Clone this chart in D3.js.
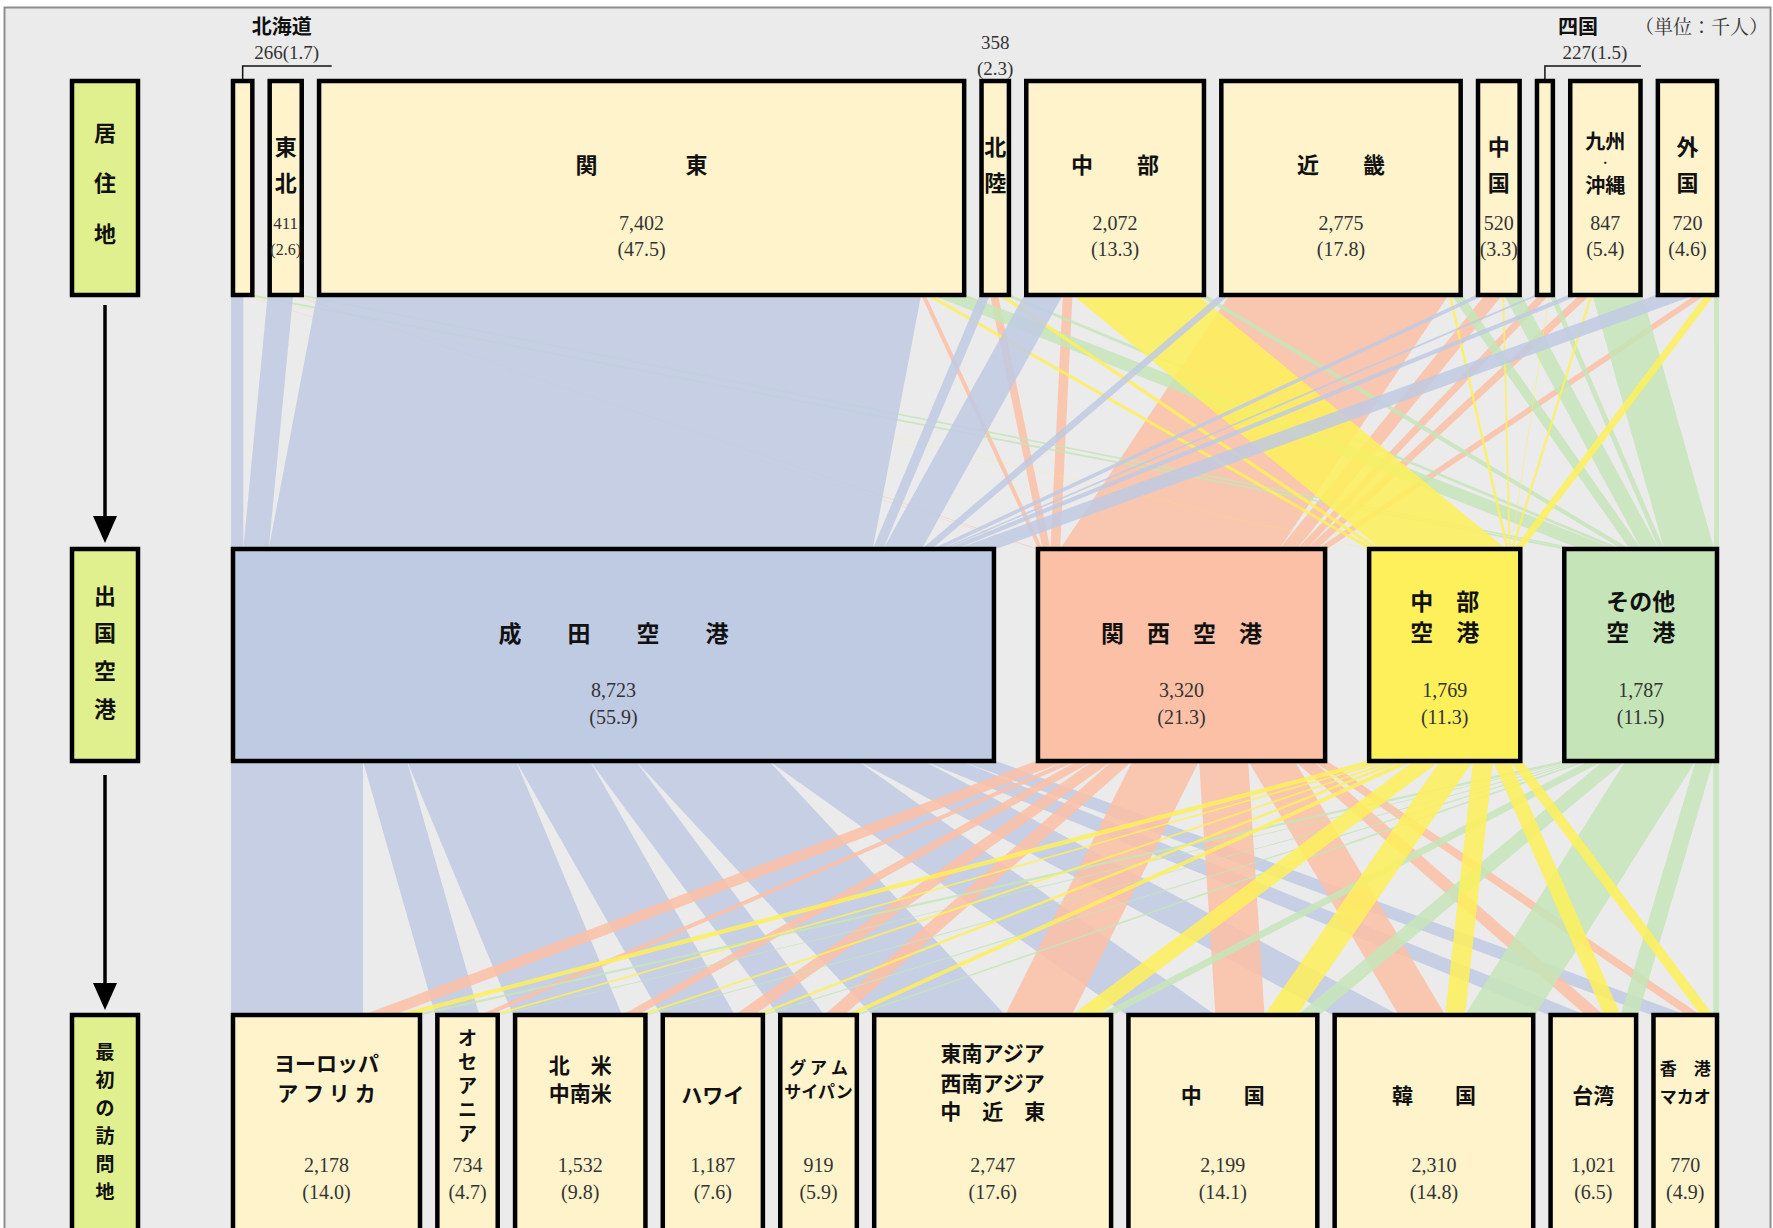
<!DOCTYPE html>
<html>
<head>
<meta charset="utf-8">
<script src="https://cdn.jsdelivr.net/npm/d3@7"></script>
<style>
  html, body { margin: 0; padding: 0; background: #fff; }
  svg { display: block; }
</style>
</head>
<body>
<svg id="chart" width="1773" height="1228"></svg>
<script>
// 居住地 (千人, %)
const residences = ["北海道", "東北", "関東", "北陸", "中部", "近畿", "中国", "四国", "九州・沖縄", "外国"];
const residenceValues = [266, 411, 7402, 358, 2072, 2775, 520, 227, 847, 720];
const residenceShares = [1.7, 2.6, 47.5, 2.3, 13.3, 17.8, 3.3, 1.5, 5.4, 4.6];
const residenceLabels = [[], ["東", "北"], ["関　　　　東"], ["北", "陸"], ["中　　部"], ["近　　畿"],
  ["中", "国"], [], ["九州", "・", "沖縄"], ["外", "国"]];

// 出国空港
const airports = ["成田空港", "関西空港", "中部空港", "その他空港"];
const airportValues = [8723, 3320, 1769, 1787];
const airportShares = [55.9, 21.3, 11.3, 11.5];
const airportLabels = [["成　　田　　空　　港"], ["関　西　空　港"], ["中　部", "空　港"], ["その他", "空　港"]];
const airportColors = ["#bfcae3", "#fcc0a6", "#fef05a", "#c5e5b8"];

// 最初の訪問地
const destinations = ["ヨーロッパ・アフリカ", "オセアニア", "北米・中南米", "ハワイ", "グアム・サイパン",
  "東南アジア・西南アジア・中近東", "中国", "韓国", "台湾", "香港・マカオ"];
const destValues = [2178, 734, 1532, 1187, 919, 2747, 2199, 2310, 1021, 770];
const destShares = [14.0, 4.7, 9.8, 7.6, 5.9, 17.6, 14.1, 14.8, 6.5, 4.9];
const destLabels = [["ヨーロッパ", "ア フ リ カ"], ["オ", "セ", "ア", "ニ", "ア"], ["北　米", "中南米"], ["ハワイ"],
  ["グ ア ム", "サイパン"], ["東南アジア", "西南アジア", "中　近　東"], ["中　　国"], ["韓　　国"], ["台湾"], ["香　港", "マカオ"]];

// 居住地 -> 出国空港 (成田, 関西, 中部, その他)
const residenceToAirport = [
  [140, 10, 6, 110],
  [290, 15, 8, 98],
  [6888, 50, 70, 394],
  [120, 90, 70, 78],
  [440, 110, 1431, 91],
  [115, 2500, 30, 130],
  [100, 200, 20, 200],
  [50, 110, 7, 60],
  [130, 120, 27, 570],
  [450, 115, 100, 55]
];

// 出国空港 -> 最初の訪問地
const airportToDest = [
  [1505, 502, 1243, 844, 524, 1517, 1015, 753, 420, 400],
  [350, 120, 180, 220, 230, 760, 560, 530, 210, 160],
  [203, 72, 69, 78, 110, 300, 376, 227, 191, 143],
  [120, 40, 40, 45, 55, 170, 250, 800, 200, 67]
];

const jp = "'Noto Sans CJK JP', 'Noto Sans', sans-serif";
const num = "'Liberation Serif', 'DejaVu Serif', serif";

const svg = d3.select("#chart");

// frame
svg.append("rect")
  .attr("x", 4.5).attr("y", 7.5).attr("width", 1766).attr("height", 1240)
  .attr("fill", "#ebebeb").attr("stroke", "#8e8e8e").attr("stroke-width", 2);

const X0 = 231, X1 = 1719;
const w = d3.scaleLinear().domain([0, 15600]).range([0, 1368]);

const rowTop = {y0: 79, y1: 297};
const rowMid = {y0: 547, y1: 763};
const rowBot = {y0: 1013, y1: 1245};

// place boxes side by side, spreading the leftover room into equal gaps
function layoutRow(values) {
  const widths = values.map(v => w(v));
  const gap = (X1 - X0 - d3.sum(widths)) / (values.length - 1);
  let x = X0;
  return values.map((v, i) => {
    const n = {x0: x, x1: x + widths[i], cx: x + widths[i] / 2};
    x += widths[i] + gap;
    return n;
  });
}

const resNodes = layoutRow(residenceValues);
const airNodes = layoutRow(airportValues);
const destNodes = layoutRow(destValues);

// build ribbons between two rows
function ribbons(matrix, srcNodes, tgtNodes, ySrc, yTgt, colorOf) {
  const out = [];
  const srcOff = srcNodes.map(() => 0);
  const tgtOff = tgtNodes.map(() => 0);
  matrix.forEach((row, i) => {
    row.forEach((v, j) => {
      const sx = srcNodes[i].x0 + w(srcOff[i]);
      srcOff[i] += v;
      out.push({i, j, v, sx});
    });
  });
  // target offsets follow source order
  for (let j = 0; j < tgtNodes.length; j++) {
    out.filter(r => r.j === j).sort((a, b) => a.i - b.i).forEach(r => {
      r.tx = tgtNodes[j].x0 + w(tgtOff[j]);
      tgtOff[j] += r.v;
    });
  }
  out.forEach(r => {
    const bw = w(r.v);
    r.pts = [[r.sx, ySrc], [r.sx + bw, ySrc], [r.tx + bw, yTgt], [r.tx, yTgt]];
    r.color = colorOf(r);
  });
  return out;
}

const poly = d3.line().curve(d3.curveLinearClosed);

const topRibbons = ribbons(residenceToAirport, resNodes, airNodes, rowTop.y1 - 2, rowMid.y0 + 2, r => airportColors[r.j]);
const botRibbons = ribbons(airportToDest, airNodes, destNodes, rowMid.y1 - 2, rowBot.y0 + 2, r => airportColors[r.i]);

const topOrder = [1, 3, 2, 0];
const botOrder = [0, 1, 3, 2];

svg.append("g").selectAll("path")
  .data(topRibbons.slice().sort((a, b) => topOrder.indexOf(a.j) - topOrder.indexOf(b.j)))
  .join("path")
  .attr("d", d => poly(d.pts))
  .attr("fill", d => d.color)
  .attr("fill-opacity", 0.85);

svg.append("g").selectAll("path")
  .data(botRibbons.slice().sort((a, b) => botOrder.indexOf(a.i) - botOrder.indexOf(b.i)))
  .join("path")
  .attr("d", d => poly(d.pts))
  .attr("fill", d => d.color)
  .attr("fill-opacity", 0.85);

// boxes
function boxes(nodes, row, fill) {
  svg.append("g").selectAll("rect")
    .data(nodes)
    .join("rect")
    .attr("x", d => d.x0 + 2).attr("y", row.y0 + 2)
    .attr("width", d => d.x1 - d.x0 - 4).attr("height", row.y1 - row.y0 - 4)
    .attr("fill", (d, i) => typeof fill === "function" ? fill(i) : fill)
    .attr("stroke", "#000").attr("stroke-width", 4.5);
}
boxes(resNodes, rowTop, "#fff3cc");
boxes(airNodes, rowMid, i => airportColors[i]);
boxes(destNodes, rowBot, "#fff3cc");

const fmt = d3.format(",");
const pct = d3.format(".1f");

function text(x, y, t, size, opts = {}) {
  return svg.append("text")
    .attr("x", x).attr("y", y)
    .attr("text-anchor", opts.anchor || "middle")
    .attr("dominant-baseline", "central")
    .attr("font-family", opts.family || jp)
    .attr("font-size", size)
    .attr("font-weight", opts.weight || 700)
    .attr("fill", opts.fill || "#111")
    .text(t);
}

// residence labels (北陸 carries its numbers above the box)
const topY = {1: [163], 2: [145, 181], 3: [140, 162, 184]};
resNodes.forEach((n, i) => {
  const lines = residenceLabels[i];
  const size = lines.length === 3 ? 20 : 22;
  lines.forEach((t, k) => text(n.cx, topY[lines.length][k], t, t === "・" ? 9 : size));
  if (lines.length && i !== 3) {
    const narrow = n.x1 - n.x0 < 45;
    text(n.cx, 223, fmt(residenceValues[i]), narrow ? 17 : 20, {family: num, weight: 400, fill: "#333"});
    text(n.cx, 249, "(" + pct(residenceShares[i]) + ")", narrow ? 16 : 20, {family: num, weight: 400, fill: "#333"});
  }
});

// outside labels: 北海道, 北陸, 四国
const hk = resNodes[0];
svg.append("path").attr("d", `M${hk.cx},${rowTop.y0} V66 H${hk.cx + 89}`)
  .attr("fill", "none").attr("stroke", "#111").attr("stroke-width", 1.5);
text(hk.cx + 39, 25, residences[0], 20);
text(hk.cx + 44, 52, fmt(residenceValues[0]) + "(" + pct(residenceShares[0]) + ")", 19, {family: num, weight: 400, fill: "#333"});

const hr = resNodes[3];
text(hr.cx, 42, fmt(residenceValues[3]), 19, {family: num, weight: 400, fill: "#333"});
text(hr.cx, 68, "(" + pct(residenceShares[3]) + ")", 19, {family: num, weight: 400, fill: "#333"});

const sk = resNodes[7];
svg.append("path").attr("d", `M${sk.cx},${rowTop.y0} V66 H${sk.cx + 96}`)
  .attr("fill", "none").attr("stroke", "#111").attr("stroke-width", 1.5);
text(sk.cx + 33, 25, residences[7], 20);
text(sk.cx + 50, 52, fmt(residenceValues[7]) + "(" + pct(residenceShares[7]) + ")", 19, {family: num, weight: 400, fill: "#333"});

text(1768, 25, "（単位：千人）", 19, {anchor: "end", family: "'Noto Serif CJK JP', 'Noto Sans CJK JP', serif", weight: 400, fill: "#333"});

// airport labels
const midY = {1: [632], 2: [600, 631]};
airNodes.forEach((n, i) => {
  const lines = airportLabels[i];
  lines.forEach((t, k) => text(n.cx, midY[lines.length][k], t, 23));
  text(n.cx, 690, fmt(airportValues[i]), 20, {family: num, weight: 400, fill: "#333"});
  text(n.cx, 717, "(" + pct(airportShares[i]) + ")", 20, {family: num, weight: 400, fill: "#333"});
});

// destination labels
const destY = [[1062, 1092], [1036, 1060, 1084, 1108, 1132], [1064, 1092], [1094], [1066, 1090],
  [1052, 1082, 1110], [1094], [1094], [1094], [1067, 1095]];
const destSize = [21, 19, 21, 21, 17, 21, 21, 21, 21, 17];
destNodes.forEach((n, i) => {
  destLabels[i].forEach((t, k) => text(n.cx, destY[i][k], t, destSize[i]));
  text(n.cx, 1165, fmt(destValues[i]), 20, {family: num, weight: 400, fill: "#333"});
  text(n.cx, 1192, "(" + pct(destShares[i]) + ")", 20, {family: num, weight: 400, fill: "#333"});
});

// left column
const side = [
  {row: rowTop, chars: ["居", "住", "地"], ys: [131, 181, 232], size: 22},
  {row: rowMid, chars: ["出", "国", "空", "港"], ys: [594, 631, 669, 707], size: 22},
  {row: rowBot, chars: ["最", "初", "の", "訪", "問", "地"], ys: [1050, 1078, 1106, 1134, 1162, 1190], size: 19}
];
side.forEach(s => {
  svg.append("rect")
    .attr("x", 72).attr("y", s.row.y0 + 2).attr("width", 66).attr("height", s.row.y1 - s.row.y0 - 4)
    .attr("fill", "#e1f08e").attr("stroke", "#000").attr("stroke-width", 4.5);
  s.chars.forEach((c, k) => text(105, s.ys[k], c, s.size, {weight: 700}));
});

// arrows
[[305, 543], [775, 1010]].forEach(([a, b]) => {
  svg.append("line").attr("x1", 105).attr("x2", 105).attr("y1", a).attr("y2", b - 20)
    .attr("stroke", "#000").attr("stroke-width", 3.5);
  svg.append("path").attr("d", `M93,${b - 27} L117,${b - 27} L105,${b} Z`).attr("fill", "#000");
});
</script>
</body>
</html>
